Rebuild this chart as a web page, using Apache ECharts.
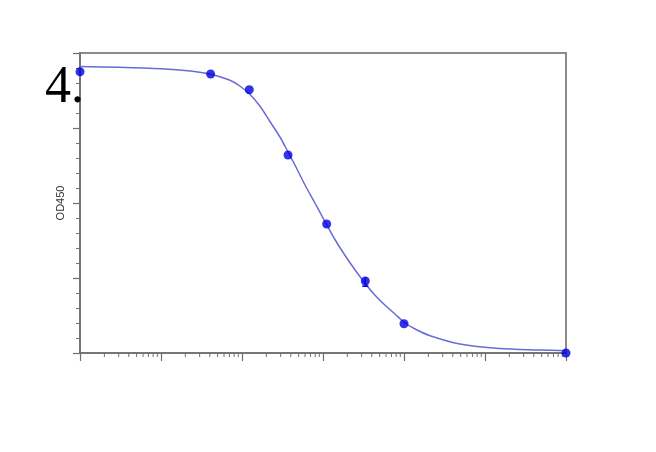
<!DOCTYPE html>
<html>
<head>
<meta charset="utf-8">
<script src="https://cdn.jsdelivr.net/npm/echarts@6/dist/echarts.min.js"></script>
<style>
    html, body { margin: 0; padding: 0; background: #fff; }
    #chart { width: 656px; height: 452px; }
</style>
</head>
<body>
<div id="chart"></div>
<script>
    // measured points (concentration, OD450)
    var pointConc = [0.01, 0.41, 1.23, 3.7, 11.1, 33.3, 100, 10000];
    var pointOD = [3.75, 3.72, 3.51, 2.64, 1.72, 0.96, 0.39, 0.0];

    // error bar on the 33.3 point
    var errConc = [33.3];
    var errLow = [0.89];
    var errHigh = [1.01];

    // fitted curve
    var curveConc = [0.01, 0.03, 0.1, 0.23, 0.4, 0.7, 0.94, 1.25, 1.67, 2.2, 2.94, 3.7, 4.64, 6, 7.96, 10.6, 14.1, 19, 24.8, 33, 43.9, 58, 77.4, 100, 137, 210, 490, 1500, 4800, 10000];
    var curveOD = [3.82, 3.81, 3.79, 3.76, 3.72, 3.64, 3.56, 3.45, 3.29, 3.09, 2.88, 2.68, 2.48, 2.24, 2.0, 1.75, 1.51, 1.29, 1.11, 0.93, 0.77, 0.64, 0.52, 0.41, 0.32, 0.23, 0.12, 0.06, 0.04, 0.03];

    // x minor ticks: 2..9 within each decade
    var decades = [0.01, 0.1, 1, 10, 100, 1000];
    var minorSteps = [2, 3, 4, 5, 6, 7, 8, 9];
    var minorTicks = [];
    decades.forEach(function (d) {
        minorSteps.forEach(function (k) {
            minorTicks.push([+(d * k).toPrecision(3), 0]);
        });
    });

    var chart = echarts.init(document.getElementById('chart'));
    var axisColor = '#6f6f6f';

    var option = {
        animation: false,
        backgroundColor: '#fff',
        grid: {
            left: 80, right: 90, top: 53, bottom: 99,
            show: true,
            borderColor: '#8c8c8c',
            borderWidth: 2
        },
        graphic: [{
            type: 'text',
            left: 45,
            top: 62,
            z: 100,
            style: {
                text: '4.',
                fontFamily: 'serif',
                fontSize: 52,
                fill: '#000'
            }
        }],
        xAxis: {
            type: 'log',
            logBase: 10,
            min: 0.01,
            max: 10000,
            splitNumber: 6,
            axisLine: { onZero: false, lineStyle: { color: axisColor, width: 1.5 } },
            axisTick: { show: true, inside: false, length: 8, lineStyle: { color: axisColor, width: 1.2 } },
            axisLabel: { show: false },
            splitLine: { show: false }
        },
        yAxis: {
            type: 'value',
            min: 0,
            max: 4,
            interval: 1,
            name: 'OD450',
            nameLocation: 'middle',
            nameRotate: 90,
            nameGap: 14,
            nameTextStyle: { fontFamily: 'Liberation Sans', fontSize: 11, color: '#333' },
            axisLine: { show: true, lineStyle: { color: axisColor, width: 1.5 } },
            axisTick: { show: true, inside: false, length: 7, lineStyle: { color: axisColor, width: 1.2 } },
            minorTick: { show: true, splitNumber: 5, length: 4, lineStyle: { color: axisColor, width: 1 } },
            axisLabel: { show: false },
            splitLine: { show: false }
        },
        series: [
            {
                name: 'minorTicks',
                type: 'custom',
                clip: false,
                silent: true,
                data: minorTicks,
                renderItem: function (params, api) {
                    var p = api.coord([api.value(0), api.value(1)]);
                    return {
                        type: 'line',
                        shape: { x1: p[0], y1: p[1], x2: p[0], y2: p[1] + 4 },
                        style: { stroke: axisColor, lineWidth: 1 }
                    };
                }
            },
            {
                name: 'fit',
                type: 'line',
                smooth: 0.3,
                showSymbol: false,
                data: curveConc.map(function (c, i) { return [c, curveOD[i]]; }),
                lineStyle: { color: '#6b6bd6', width: 1.5 },
                z: 3
            },
            {
                name: 'error',
                type: 'custom',
                clip: false,
                data: errConc.map(function (c, i) { return [c, errLow[i], errHigh[i]]; }),
                renderItem: function (params, api) {
                    var lo = api.coord([api.value(0), api.value(1)]);
                    var hi = api.coord([api.value(0), api.value(2)]);
                    return {
                        type: 'group',
                        children: [
                            { type: 'line', shape: { x1: lo[0], y1: lo[1], x2: hi[0], y2: hi[1] }, style: { stroke: '#0000e0', lineWidth: 1.5 } },
                            { type: 'line', shape: { x1: lo[0] - 3, y1: lo[1], x2: lo[0] + 3, y2: lo[1] }, style: { stroke: '#0000e0', lineWidth: 1.5 } }
                        ]
                    };
                },
                z: 4
            },
            {
                name: 'data',
                type: 'scatter',
                clip: false,
                symbolSize: 9,
                data: pointConc.map(function (c, i) { return [c, pointOD[i]]; }),
                itemStyle: { color: '#0000e0' },
                z: 5
            }
        ]
    };
    chart.setOption(option);
</script>
</body>
</html>
